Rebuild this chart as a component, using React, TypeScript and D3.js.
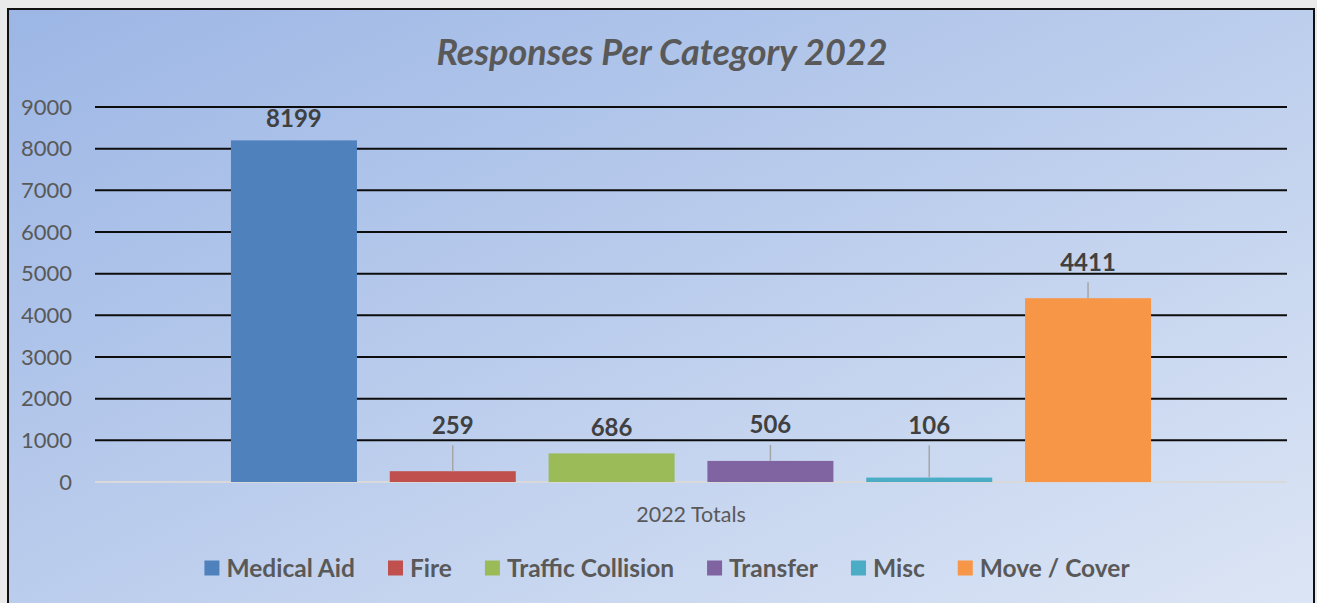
import { useRef, useEffect } from "react";
import * as d3 from "d3";

const series = ["Medical Aid", "Fire", "Traffic Collision", "Transfer", "Misc", "Move / Cover"];
const values = [8199, 259, 686, 506, 106, 4411];
const colors = ["#4F81BD", "#C0504D", "#9BBB59", "#8064A2", "#4BACC6", "#F79646"];
const yTicks = [0, 1000, 2000, 3000, 4000, 5000, 6000, 7000, 8000, 9000];
const category = "2022 Totals";
const title = "Responses Per Category 2022";

const FONT = "Lato, 'Open Sans', sans-serif";

const App = () => {
  const ref = useRef<SVGSVGElement | null>(null);

  useEffect(() => {
    if (!ref.current) return;
    const W = 1317;
    const H = 603;
    const plot = { left: 95, right: 1287, top: 107, bottom: 482 };

    const svg = d3.select(ref.current);
    svg.selectAll("*").remove();

    // gradient background of the chart box
    const defs = svg.append("defs");
    const grad = defs
      .append("linearGradient")
      .attr("id", "bg")
      .attr("x1", "0%")
      .attr("y1", "0%")
      .attr("x2", "100%")
      .attr("y2", "100%");
    grad.append("stop").attr("offset", "0%").attr("stop-color", "#9CB6E5");
    grad.append("stop").attr("offset", "100%").attr("stop-color", "#DDE6F5");

    svg.append("rect").attr("width", W).attr("height", H).attr("fill", "#EAEAEA");
    svg
      .append("rect")
      .attr("x", 8)
      .attr("y", 9)
      .attr("width", 1306)
      .attr("height", 620)
      .attr("fill", "url(#bg)")
      .attr("stroke", "#111")
      .attr("stroke-width", 2);

    const x = d3
      .scaleBand<string>()
      .domain(series)
      .range([plot.left, plot.right])
      .paddingInner(0.2066)
      .paddingOuter(0.856);

    const y = d3.scaleLinear().domain([0, 9000]).range([plot.bottom, plot.top]);

    // gridlines
    svg
      .append("g")
      .selectAll("line")
      .data(yTicks)
      .enter()
      .append("line")
      .attr("x1", plot.left)
      .attr("x2", plot.right)
      .attr("y1", (d) => y(d))
      .attr("y2", (d) => y(d))
      .attr("stroke", (d) => (d === 0 ? "#D9D9D9" : "#0D0D0D"))
      .attr("stroke-width", (d) => (d === 0 ? 2 : 2));

    // y tick labels
    svg
      .append("g")
      .selectAll("text")
      .data(yTicks)
      .enter()
      .append("text")
      .attr("x", 72)
      .attr("y", (d) => y(d))
      .attr("dy", "0.35em")
      .attr("text-anchor", "end")
      .attr("font-family", FONT)
      .attr("font-size", 22)
      .attr("fill", "#595959")
      .text((d) => d);

    // bars
    svg
      .append("g")
      .selectAll("rect")
      .data(values)
      .enter()
      .append("rect")
      .attr("x", (_, i) => x(series[i]) ?? 0)
      .attr("y", (d) => y(d))
      .attr("width", x.bandwidth())
      .attr("height", (d) => plot.bottom - y(d))
      .attr("fill", (_, i) => colors[i]);

    // data labels, dragged above the bars like in the original
    const labelLift = [22, 46, 26, 36, 52, 36];
    const labelYs = values.map((v, i) => y(v) - labelLift[i]);
    const leaders = values
      .map((v, i) => ({ v, i }))
      .filter(({ v, i }) => y(v) - (labelYs[i] + 20) > 8);
    svg
      .append("g")
      .selectAll("line")
      .data(leaders)
      .enter()
      .append("line")
      .attr("x1", (d) => (x(series[d.i]) ?? 0) + x.bandwidth() / 2)
      .attr("x2", (d) => (x(series[d.i]) ?? 0) + x.bandwidth() / 2)
      .attr("y1", (d) => labelYs[d.i] + 20)
      .attr("y2", (d) => y(d.v))
      .attr("stroke", "#A6A6A6")
      .attr("stroke-width", 1.5);

    svg
      .append("g")
      .selectAll("text")
      .data(values)
      .enter()
      .append("text")
      .attr("x", (_, i) => (x(series[i]) ?? 0) + x.bandwidth() / 2)
      .attr("y", (_, i) => labelYs[i])
      .attr("dy", "0.35em")
      .attr("text-anchor", "middle")
      .attr("font-family", FONT)
      .attr("font-weight", "bold")
      .attr("font-size", 24)
      .attr("fill", "#404040")
      .text((d) => d);

    // category label
    svg
      .append("text")
      .attr("x", (plot.left + plot.right) / 2)
      .attr("y", 514)
      .attr("dy", "0.35em")
      .attr("text-anchor", "middle")
      .attr("font-family", FONT)
      .attr("font-size", 21.5)
      .attr("fill", "#595959")
      .text(category);

    // title
    svg
      .append("text")
      .attr("x", 662)
      .attr("y", 52)
      .attr("dy", "0.35em")
      .attr("text-anchor", "middle")
      .attr("font-family", FONT)
      .attr("font-weight", "bold")
      .attr("font-style", "italic")
      .attr("font-size", 36)
      .attr("fill", "#595959")
      .text(title);

    // legend
    const legend = svg.append("g");
    const items = legend
      .selectAll("g")
      .data(series)
      .enter()
      .append("g");
    items
      .append("rect")
      .attr("width", 15)
      .attr("height", 15)
      .attr("y", -7.5)
      .attr("fill", (_, i) => colors[i]);
    items
      .append("text")
      .attr("x", 22)
      .attr("dy", "0.35em")
      .attr("font-family", FONT)
      .attr("font-weight", "bold")
      .attr("font-size", 24.5)
      .attr("fill", "#595959")
      .text((d) => d);

    let cursor = 0;
    items.each(function () {
      const g = d3.select(this);
      const t = g.select("text").node() as SVGTextElement;
      g.attr("transform", `translate(${cursor},0)`);
      cursor += 22 + t.getComputedTextLength() + 33;
    });
    const total = cursor - 33;
    legend.attr("transform", `translate(${667 - total / 2},568)`);
  }, []);

  return (
    <svg
      ref={ref}
      width={1317}
      height={603}
      style={{ position: "absolute", left: 0, top: 0 }}
    />
  );
};

export default App;
